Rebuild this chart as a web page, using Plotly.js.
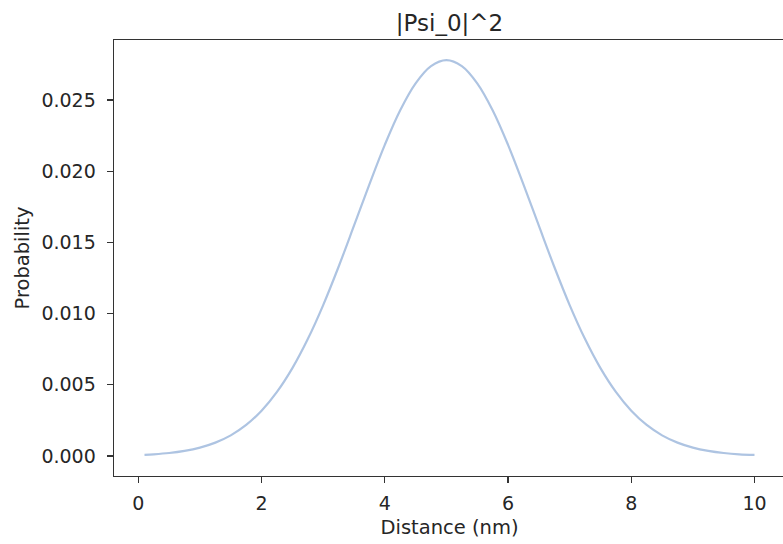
<!DOCTYPE html>
<html>
<head>
<meta charset="utf-8">
<script src="https://cdn.plot.ly/plotly-3.0.1.min.js"></script>
<style>
html,body{margin:0;padding:0;overflow:hidden;background:#fff;}
#chart{width:786px;height:544px;}
</style>
</head>
<body>
<div id="chart"></div>
<script>
const distance = [0.1, 0.25, 0.5, 0.75, 1.0, 1.25, 1.5, 1.75, 2.0, 2.25, 2.5, 2.75, 3.0, 3.25, 3.5, 3.75, 4.0, 4.25, 4.5, 4.75, 5.0,
  5.25, 5.5, 5.75, 6.0, 6.25, 6.5, 6.75, 7.0, 7.25, 7.5, 7.75, 8.0, 8.25, 8.5, 8.75, 9.0, 9.25, 9.5, 9.75, 10.0];
const probability = [0.000085, 0.00012, 0.00021, 0.00036, 0.00059, 0.00094, 0.00145, 0.00218, 0.00318, 0.00450, 0.00617, 0.00821, 0.01060, 0.01329, 0.01617, 0.01908, 0.02185, 0.02428, 0.02617, 0.02738, 0.02780,
  0.02738, 0.02617, 0.02428, 0.02185, 0.01908, 0.01617, 0.01329, 0.01060, 0.00821, 0.00617, 0.00450, 0.00318, 0.00218, 0.00145, 0.00094, 0.00059, 0.00036, 0.00021, 0.00012, 0.000085];
const xTicks = [0, 2, 4, 6, 8, 10];
const yTicks = [0.000, 0.005, 0.010, 0.015, 0.020, 0.025];
const yTickText = ["0.000", "0.005", "0.010", "0.015", "0.020", "0.025"];

const tickFont = {family: "DejaVu Sans", size: 19, color: "#262626"};
const labelFont = {family: "DejaVu Sans", size: 19.5, color: "#262626"};
const axisCommon = {
  showline: true, mirror: true, linecolor: "#333", linewidth: 1.4,
  ticks: "outside", ticklen: 6, tickwidth: 1.3, tickcolor: "#333",
  showgrid: false, zeroline: false, tickfont: tickFont
};
Plotly.newPlot("chart", [{
  x: distance, y: probability, type: "scatter", mode: "lines",
  line: {color: "#aec4e2", width: 2.2, shape: "spline", smoothing: 1.0},
  hoverinfo: "skip"
}], {
  width: 786, height: 544,
  margin: {l: 114, r: 1, t: 40, b: 68},
  paper_bgcolor: "#fff", plot_bgcolor: "#fff",
  showlegend: false,
  font: tickFont,
  title: {text: "|Psi_0|^2", font: {family: "DejaVu Sans", size: 23, color: "#262626"},
          x: 0.5, xref: "paper", xanchor: "center", y: 1, yref: "paper", yanchor: "bottom", pad: {b: 9}},
  xaxis: Object.assign({}, axisCommon, {
    range: [-0.395, 10.495], tickvals: xTicks, ticktext: xTicks.map(String),
    ticklabelstandoff: 4,
    title: {text: "Distance (nm)", font: labelFont, standoff: 7}
  }),
  yaxis: Object.assign({}, axisCommon, {
    range: [-0.001404, 0.029213], tickvals: yTicks, ticktext: yTickText,
    ticklabelstandoff: 7,
    title: {text: "Probability", font: labelFont, standoff: 6}
  })
}, {staticPlot: true, displayModeBar: false});
</script>
</body>
</html>
